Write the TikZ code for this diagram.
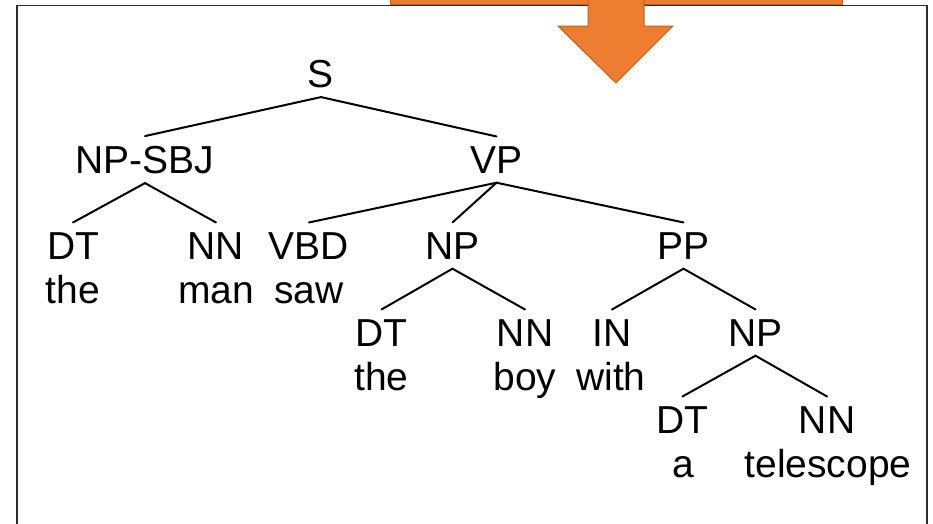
\documentclass[tikz,border=0pt]{standalone}
\usepackage{fontspec}
\setmainfont{Liberation Sans}
\definecolor{arroworange}{HTML}{ED7D31}
\definecolor{arrowedge}{HTML}{C0601E}
\definecolor{framegray}{HTML}{2E2E2E}
\begin{document}
\begin{tikzpicture}[x=1pt,y=-1pt,
  tag/.style={inner xsep=0pt, inner ysep=9.5pt, anchor=base,
    font=\fontsize{39}{44}\selectfont},
  word/.style={inner sep=0pt, anchor=base,
    font=\fontsize{39}{44}\selectfont},
  branch/.style={line width=2pt, black, line cap=round, line join=miter},
  orangeshape/.style={fill=arroworange, draw=arrowedge, line width=1pt}]
\useasboundingbox (0,0) rectangle (933,523);

% frame around the tree, open at the bottom
\draw[framegray, line width=1.6pt] (17,540) -- (17,5.5) -- (927,5.5) -- (927,540);

% orange bar and down arrow at the top
\path[orangeshape] (390,-10) rectangle (842,4.5);
\path[orangeshape] (588,-10) -- (588,26) -- (558,26) -- (616,83)
  -- (673,26) -- (644,26) -- (644,-10) -- cycle;

% internal constituents
\node[tag] (s)     at (321,87)    {S};
\node[tag] (npsbj) at (145,173)   {NP-SBJ};
\node[tag] (vp)    at (496.5,173) {VP};
\node[tag] (np1)   at (452.5,259) {NP};
\node[tag] (pp)    at (683.5,259) {PP};
\node[tag] (np2)   at (755.5,346) {NP};

% part-of-speech tags
\node[tag] (dt1)  at (73,259)    {DT};
\node[tag] (nn1)  at (216,259)   {NN};
\node[tag] (vbd)  at (309,259)   {VBD};
\node[tag] (dt2)  at (381.5,346) {DT};
\node[tag] (nn2)  at (525,346)   {NN};
\node[tag] (in)   at (612,346)   {IN};
\node[tag] (dt3)  at (682.5,433) {DT};
\node[tag] (nn3)  at (827,433)   {NN};

% words
\node[word] (w1) at (73,303)    {the};
\node[word] (w2) at (216,303)   {man};
\node[word] (w3) at (309,303)   {saw};
\node[word] (w4) at (381.5,390) {the};
\node[word] (w5) at (525,390)   {boy};
\node[word] (w6) at (611,390)   {with};
\node[word] (w7) at (683,477)   {a};
\node[word] (w8) at (828,477)   {telescope};

% branches
\draw[branch] (npsbj.north) -- (s.south) -- (vp.north);
\draw[branch] (dt1.north) -- (npsbj.south) -- (nn1.north);
\draw[branch] (vbd.north) -- (vp.south) -- (pp.north);
\draw[branch] (vp.south) -- (np1.north);
\draw[branch] (dt2.north) -- (np1.south) -- (nn2.north);
\draw[branch] (in.north) -- (pp.south) -- (np2.north);
\draw[branch] (dt3.north) -- (np2.south) -- (nn3.north);
\end{tikzpicture}
\end{document}
